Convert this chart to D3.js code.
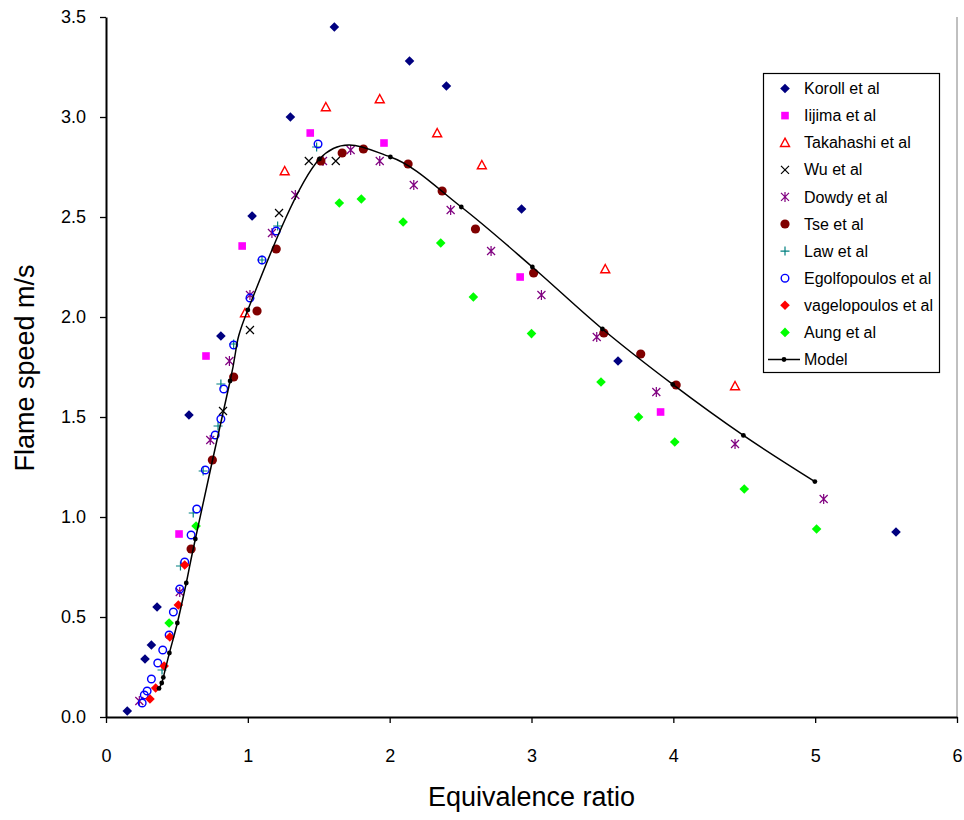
<!DOCTYPE html>
<html><head><meta charset="utf-8">
<script src="https://cdnjs.cloudflare.com/ajax/libs/d3/7.8.5/d3.min.js"></script>
<style>
html,body{margin:0;padding:0;background:#fff;}
svg{display:block;font-family:"Liberation Sans",Arial,sans-serif;}
</style></head>
<body>
<svg id="chart" width="964" height="820"></svg>
<script>
// ---- data (equivalence ratio, flame speed m/s) ----
const koroll = [[0.15,0.03],[0.275,0.29],[0.32,0.36],[0.36,0.55],[0.585,1.51],[0.81,1.905],[1.03,2.505],[1.30,3.00],[1.61,3.45],[2.14,3.28],[2.40,3.155],[2.93,2.54],[3.61,1.78],[5.57,0.925]];
const iijima = [[0.515,0.915],[0.705,1.805],[0.96,2.355],[1.44,2.92],[1.96,2.87],[2.92,2.20],[3.91,1.525]];
const takahashi = [[0.98,2.02],[1.26,2.73],[1.55,3.05],[1.93,3.09],[2.335,2.92],[2.65,2.76],[3.52,2.24],[4.435,1.655]];
const wu = [[0.825,1.53],[1.015,1.935],[1.22,2.52],[1.43,2.78],[1.62,2.78]];
const dowdy = [[0.235,0.08],[0.52,0.625],[0.735,1.385],[0.87,1.78],[1.015,2.11],[1.17,2.42],[1.335,2.61],[1.53,2.78],[1.725,2.835],[1.93,2.78],[2.17,2.66],[2.43,2.535],[2.715,2.33],[3.07,2.11],[3.46,1.90],[3.88,1.625],[4.435,1.365],[5.06,1.09]];
const tse = [[0.60,0.84],[0.75,1.285],[0.90,1.70],[1.065,2.03],[1.20,2.34],[1.515,2.78],[1.665,2.82],[1.815,2.84],[2.13,2.765],[2.37,2.63],[2.605,2.44],[3.015,2.22],[3.51,1.92],[3.77,1.815],[4.02,1.66]];
const law = [[0.395,0.235],[0.525,0.755],[0.615,1.02],[0.685,1.23],[0.79,1.455],[0.81,1.665],[0.90,1.865],[1.10,2.285],[1.21,2.455],[1.485,2.85]];
const egolfopoulos = [[0.255,0.07],[0.27,0.11],[0.29,0.13],[0.32,0.19],[0.365,0.27],[0.40,0.335],[0.445,0.41],[0.475,0.525],[0.52,0.64],[0.555,0.775],[0.60,0.91],[0.64,1.04],[0.70,1.235],[0.77,1.41],[0.81,1.49],[0.83,1.64],[0.90,1.86],[1.015,2.095],[1.10,2.285],[1.20,2.43],[1.495,2.865]];
const vagelopoulos = [[0.31,0.09],[0.35,0.145],[0.41,0.255],[0.45,0.40],[0.51,0.56],[0.555,0.76]];
const aung = [[0.445,0.47],[0.635,0.955],[1.645,2.57],[1.80,2.59],[2.095,2.475],[2.36,2.37],[2.59,2.10],[3.0,1.917],[3.49,1.675],[3.755,1.50],[4.01,1.375],[4.50,1.14],[5.01,0.94]];
const model = [[0.374,0.143],[0.393,0.17],[0.404,0.198],[0.447,0.32],[0.503,0.47],[0.566,0.67],[0.63,0.89],[0.875,1.68],[1.0,2.035],[1.505,2.79],[2.005,2.80],[2.505,2.55],[3.006,2.25],[3.50,1.94],[3.996,1.663],[4.494,1.408],[4.998,1.177]];

const xTicks = [0,1,2,3,4,5,6];
const yTicks = [0,0.5,1,1.5,2,2.5,3,3.5];
const xTitle = "Equivalence ratio";
const yTitle = "Flame speed m/s";

const series = [
  {name:"Koroll et al", data:koroll, marker:"diamond", color:"#000080"},
  {name:"Iijima et al", data:iijima, marker:"square", color:"#FF00FF"},
  {name:"Takahashi et al", data:takahashi, marker:"triangle", color:"#FF0000"},
  {name:"Wu et al", data:wu, marker:"x", color:"#000000"},
  {name:"Dowdy et al", data:dowdy, marker:"star", color:"#800080"},
  {name:"Tse et al", data:tse, marker:"circle", color:"#800000"},
  {name:"Law et al", data:law, marker:"plus", color:"#008080"},
  {name:"Egolfopoulos et al", data:egolfopoulos, marker:"ocircle", color:"#0000FF"},
  {name:"vagelopoulos et al", data:vagelopoulos, marker:"diamond", color:"#FF0000"},
  {name:"Aung et al", data:aung, marker:"diamond", color:"#00FF00"}
];

// ---- layout ----
const svg = d3.select("#chart");
const L = 106, R = 957, T = 17, B = 717;
const x = d3.scaleLinear().domain([0,6]).range([L,R]);
const y = d3.scaleLinear().domain([0,3.5]).range([B,T]);

// right plot edge
svg.append("line").attr("x1",R).attr("x2",R).attr("y1",T).attr("y2",B)
  .attr("stroke","#808080").attr("stroke-width",1);

function drawMarker(g, type, color){
  switch(type){
    case "diamond":
      g.append("path").attr("d","M0,-4.8L4.8,0L0,4.8L-4.8,0Z").attr("fill",color); break;
    case "square":
      g.append("rect").attr("x",-3.8).attr("y",-3.8).attr("width",7.6).attr("height",7.6).attr("fill",color); break;
    case "triangle":
      g.append("path").attr("d","M0,-4.5L4.5,3.8L-4.5,3.8Z").attr("fill","none").attr("stroke",color).attr("stroke-width",1.4); break;
    case "x":
      g.append("path").attr("d","M-4,-4L4,4M-4,4L4,-4").attr("stroke",color).attr("stroke-width",1.2); break;
    case "star":
      g.append("path").attr("d","M-4,-4L4,4M-4,4L4,-4M0,-5L0,5").attr("stroke",color).attr("stroke-width",1.2); break;
    case "circle":
      g.append("circle").attr("r",4.6).attr("fill",color); break;
    case "plus":
      g.append("path").attr("d","M-4.5,0L4.5,0M0,-4.5L0,4.5").attr("stroke",color).attr("stroke-width",1.2); break;
    case "ocircle":
      g.append("circle").attr("r",3.8).attr("fill","none").attr("stroke",color).attr("stroke-width",1.4); break;
  }
}

// ---- points ----
series.forEach(s=>{
  const g = svg.append("g");
  s.data.forEach(d=>{
    const m = g.append("g").attr("transform",`translate(${x(d[0])},${y(d[1])})`);
    drawMarker(m, s.marker, s.color);
  });
});

// ---- model ----
const line = d3.line().x(d=>x(d[0])).y(d=>y(d[1])).curve(d3.curveCatmullRom.alpha(0));
svg.append("path").datum(model).attr("d",line).attr("fill","none").attr("stroke","#000").attr("stroke-width",1.5);
svg.append("g").selectAll("circle").data(model).join("circle")
  .attr("cx",d=>x(d[0])).attr("cy",d=>y(d[1])).attr("r",2.4).attr("fill","#000");

// ---- axes ----
const yAxis = d3.axisLeft(y).tickValues(yTicks).tickFormat(d3.format(".1f")).tickSizeInner(6).tickSizeOuter(0).tickPadding(14);
const gy = svg.append("g").attr("transform",`translate(${L},0)`).call(yAxis);
gy.selectAll("text").attr("font-size",18).attr("font-family","Liberation Sans, Arial, sans-serif").attr("fill","#000");
gy.select(".domain").attr("stroke-width",2);
gy.selectAll(".tick line").attr("stroke-width",1.3);

const xAxis = d3.axisBottom(x).tickValues(xTicks).tickFormat(d3.format("d")).tickSizeInner(6).tickSizeOuter(0).tickPadding(26);
const gx = svg.append("g").attr("transform",`translate(0,${B})`).call(xAxis);
gx.selectAll("text").attr("font-size",18).attr("font-family","Liberation Sans, Arial, sans-serif").attr("fill","#000");
gx.select(".domain").attr("stroke-width",2);
gx.selectAll(".tick line").attr("stroke-width",1.3);

svg.append("text").attr("x",(L+R)/2 - 0).attr("y",806).attr("text-anchor","middle")
  .attr("font-size",27).attr("fill","#000").text(xTitle);
svg.append("text").attr("transform","translate(34,368) rotate(-90)").attr("text-anchor","middle")
  .attr("font-size",27).attr("fill","#000").text(yTitle);

// ---- legend ----
const lg = svg.append("g");
lg.append("rect").attr("x",763.5).attr("y",73.5).attr("width",176).attr("height",299)
  .attr("fill","#fff").attr("stroke","#000").attr("stroke-width",1.2);
const rowY = i => 88.5 + i*27.1;
series.forEach((s,i)=>{
  const m = lg.append("g").attr("transform",`translate(785,${rowY(i)})`);
  drawMarker(m, s.marker, s.color);
  lg.append("text").attr("x",804).attr("y",rowY(i)+5.6).attr("font-size",16).attr("fill","#000").text(s.name);
});
const my = rowY(10);
lg.append("line").attr("x1",768).attr("x2",800).attr("y1",my).attr("y2",my).attr("stroke","#000").attr("stroke-width",1.5);
lg.append("circle").attr("cx",784).attr("cy",my).attr("r",2.4).attr("fill","#000");
lg.append("text").attr("x",804).attr("y",my+5.6).attr("font-size",16).attr("fill","#000").text("Model");
</script>
</body></html>
